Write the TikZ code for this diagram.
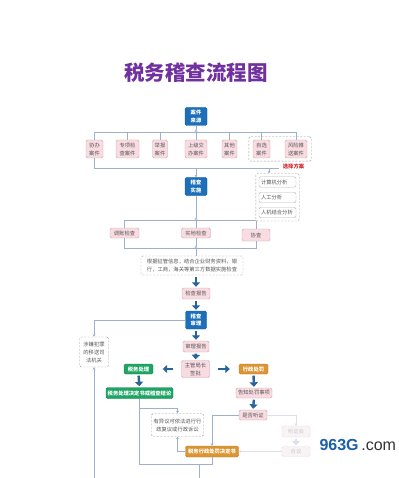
\documentclass[tikz,border=0pt]{standalone}
\usepackage{fontspec}
\setmainfont{Noto Sans CJK SC}
\newfontfamily\wmfont{Liberation Sans}
\usetikzlibrary{arrows.meta,fit}

\definecolor{titleC}{HTML}{7030A0}
\definecolor{blueC}{HTML}{1C6FB8}
\definecolor{pinkF}{HTML}{F9DCE1}
\definecolor{pinkD}{HTML}{CFA3AC}
\definecolor{greenC}{HTML}{1FA463}
\definecolor{orangeC}{HTML}{DB9532}
\definecolor{txtC}{HTML}{555555}
\definecolor{lineC}{HTML}{9FB1C9}
\definecolor{arrC}{HTML}{2A629A}
\definecolor{dashC}{HTML}{9A9A9A}
\definecolor{redC}{HTML}{D0262C}
\definecolor{fadeF}{HTML}{F8F3F4}
\definecolor{fadeD}{HTML}{EADFE2}
\definecolor{fadeT}{HTML}{C9C9C9}
\definecolor{fadeL}{HTML}{D9E0E9}
\definecolor{wmblue}{HTML}{1D5FA8}
\definecolor{wmgray}{HTML}{333333}

\tikzset{
  base/.style={rounded corners=1.5pt, inner sep=0pt, align=center,
    font=\fontsize{5.3}{8}\selectfont},
  bluebox/.style={base, fill=blueC, draw=blueC!85!black, text=white,
    minimum width=22pt, minimum height=18pt, font=\fontsize{5.3}{7.5}\selectfont\bfseries},
  pinkbox/.style={base, fill=pinkF, draw=pinkD, text=txtC},
  greenbox/.style={base, fill=greenC, draw=greenC!85!black, text=white,
    font=\fontsize{5.3}{8}\selectfont\bfseries},
  orangebox/.style={base, fill=orangeC, draw=orangeC!85!black, text=white,
    font=\fontsize{5.3}{8}\selectfont\bfseries},
  notebox/.style={base, draw=dashC, dash pattern=on 2pt off 1.5pt, fill=white, text=txtC},
  fadebox/.style={base, fill=fadeF, draw=fadeD, text=fadeT},
  itembox/.style={base, draw=dashC!70, fill=white, text=txtC, align=left,
    text width=33pt, inner xsep=2pt, minimum height=10.5pt},
  groupbox/.style={draw=dashC, dash pattern=on 2pt off 1.5pt, rounded corners=2pt},
  link/.style={draw=lineC, line width=0.6pt},
  fadelink/.style={draw=fadeL, line width=0.6pt},
  tip/.style={-{Stealth[length=2.5pt,width=3pt]}},
  jtip/.style={-{Stealth[reversed,length=2.5pt,width=3pt]}},
  bigarrow/.style={draw=arrC, line width=2.4pt, -{Triangle[width=8pt,length=4.5pt]},
    shorten <=1.5pt, shorten >=1pt},
  fadearrow/.style={bigarrow, draw=fadeL},
}

\begin{document}
\begin{tikzpicture}[x=1pt, y=-1pt]
  \fill[white] (0,0) rectangle (398,478);
  \useasboundingbox (0,0) rectangle (398,478);

  % title
  \node[text=titleC, font=\fontsize{20.5}{24}\selectfont\bfseries] (title) at (196,73) {税务稽查流程图};

  % case sources
  \node[bluebox] (src) at (196,116.5) {案件\\来源};
  \node[pinkbox, minimum width=17pt, minimum height=18pt] (xieban) at (94.5,149) {协办\\案件};
  \node[pinkbox, minimum width=23pt, minimum height=18pt] (zhuanxiang) at (127.5,149) {专项检\\查案件};
  \node[pinkbox, minimum width=15pt, minimum height=18pt] (jubao) at (160,149) {举报\\案件};
  \node[pinkbox, minimum width=22pt, minimum height=18pt] (shangji) at (196,149) {上级交\\办案件};
  \node[pinkbox, minimum width=15pt, minimum height=18pt] (qita) at (229.5,149) {其他\\案件};
  \node[pinkbox, minimum width=17pt, minimum height=18pt] (zixuan) at (261.5,149) {自选\\案件};
  \node[pinkbox, minimum width=22pt, minimum height=18pt] (fengxian) at (296,149) {风险推\\送案件};
  \node[groupbox, fit=(zixuan)(fengxian), inner xsep=4pt, inner ysep=3pt] (grpA) {};
  \node[text=redC, font=\fontsize{5.3}{6}\selectfont\bfseries] (choose) at (293.5,166) {选择方案};

  \coordinate (barA) at (196,132);
  \coordinate (barB) at (196,168);
  \coordinate (selB) at (269,168);
  \draw[link, jtip] (src.south) -- (barA);
  \draw[link] (xieban.north) |- (fengxian.north |- barA) -- (fengxian.north);
  \foreach \n in {zhuanxiang,jubao,shangji,qita,zixuan}
    \draw[link] (\n.north |- barA) -- (\n.north);
  \draw[link] (xieban.south) |- (barB -| choose.west);

  % analysis methods
  \node[itembox] (jisuanji) at (277.5,182) {计算机分析};
  \node[itembox] (rengong) at (277.5,197.5) {人工分析};
  \node[itembox] (renji) at (277.5,212.5) {人机结合分析};
  \node[groupbox, fit=(jisuanji)(renji), inner sep=3pt] (grpB) {};
  \draw[link, tip] (selB) -- (selB |- grpB.north);

  % inspection
  \node[bluebox] (impl) at (196,186.5) {稽查\\实施};
  \draw[link, tip] (barB) -- (impl.north);
  \node[pinkbox, minimum width=29pt, minimum height=10pt] (tiaozhang) at (124.5,233) {调账检查};
  \node[pinkbox, minimum width=29pt, minimum height=10pt] (shidi) at (196,233) {实地检查};
  \node[pinkbox, minimum width=28pt, minimum height=12pt] (xiecha) at (256,235) {协查};

  \coordinate (barC) at (196,220);
  \coordinate (barD) at (196,248);
  \draw[link, jtip] (impl.south) -- (barC);
  \draw[link] (tiaozhang.north) |- (xiecha.north |- barC);
  \draw[link] (barC) -- (shidi.north);
  \draw[link] (xiecha.north |- grpB.south) -- (xiecha.north);
  \draw[link] (tiaozhang.south) |- (xiecha.south |- barD) -- (xiecha.south);
  \draw[link, jtip] (shidi.south) -- (barD);

  \node[notebox, minimum width=102pt, minimum height=19pt] (note) at (192,265.5)
    {根据征管信息，结合企业财务资料，银\\行，工商，海关等第三方数据实施检查};
  \draw[link] (barD) -- (barD |- note.north);

  % review
  \node[pinkbox, minimum width=28pt, minimum height=11pt] (report) at (196,293.5) {检查报告};
  \node[bluebox, minimum width=21pt] (review) at (196,320) {稽查\\审理};
  \node[pinkbox, minimum width=26pt, minimum height=11pt] (audit) at (196,346.5) {审理报告};
  \node[pinkbox, minimum width=28pt, minimum height=17pt] (sign) at (195.5,369) {主管局长\\签批};
  \draw[bigarrow] (barD |- note.south) -- (report.north);
  \draw[bigarrow] (report.south) -- (review.north);
  \draw[bigarrow] (review.south) -- (audit.north);
  \draw[bigarrow] (audit.south) -- (sign.north);

  \node[notebox, minimum width=29pt, minimum height=30pt] (crime) at (94,352) {涉嫌犯罪\\的移送司\\法机关};
  \coordinate (inC) at (94,481);
  \draw[link, tip] (review.west) -| (crime.north);
  \draw[link, tip] (inC) -- (crime.south);

  % tax handling
  \node[greenbox, minimum width=29pt, minimum height=10pt] (tax) at (138.5,369) {税务处理};
  \node[greenbox, minimum width=67pt, minimum height=11pt] (taxdoc) at (139.5,393) {税务处理决定书或稽查结论};
  \draw[bigarrow, shorten <=8pt, shorten >=9.5pt] (sign.west) -- (tax.east);
  \draw[bigarrow] (tax.south) -- (taxdoc.north);

  % penalty
  \node[orangebox, minimum width=29pt, minimum height=10pt] (pen) at (253.5,369) {行政处罚};
  \node[pinkbox, minimum width=36pt, minimum height=10pt] (notice) at (254,393) {告知处罚事项};
  \node[pinkbox, minimum width=28pt, minimum height=10pt] (hearq) at (253,415) {是否听证};
  \node[fadebox, minimum width=28pt, minimum height=11pt] (hearing) at (296,431.5) {听证会};
  \node[fadebox, minimum width=28pt, minimum height=10pt] (heyi) at (296,451.5) {合议};
  \node[orangebox, minimum width=53pt, minimum height=11pt] (pendoc) at (212,451.5) {税务行政处罚决定书};
  \node[notebox, minimum width=52pt, minimum height=23pt] (objection) at (177.5,425)
    {有异议可依法进行行\\政复议或行政诉讼};
  \draw[bigarrow, shorten <=8.5pt, shorten >=9pt] (sign.east) -- (pen.west);
  \draw[bigarrow] (pen.south) -- (notice.north);
  \draw[bigarrow] (notice.south) -- (hearq.north);
  \draw[fadelink, tip] (hearq.east) -| (hearing.north);
  \draw[fadearrow] (hearing.south) -- (heyi.north);
  \draw[fadelink, tip] (heyi.west) -- (pendoc.east);
  \draw[link, tip] (hearq.west) -| (pendoc.north);

  % results
  \coordinate (brk) at (139,408);
  \coordinate (barE) at (199,464);
  \coordinate (outE) at (199,481);
  \draw[link, tip] (brk) -| (objection.north);
  \draw[link, tip] (pendoc.west) -| (objection.south);
  \draw[link] (taxdoc.south) |- (pendoc.south |- barE) -- (pendoc.south);
  \draw[link, tip] (barE) -- (outE);

  % watermark
  \node[anchor=west, font=\wmfont\fontsize{16}{18}\selectfont] (wm) at (316,445)
    {\textcolor{wmblue}{\bfseries 963G}\,\textcolor{wmgray}{.com}};
\end{tikzpicture}
\end{document}
